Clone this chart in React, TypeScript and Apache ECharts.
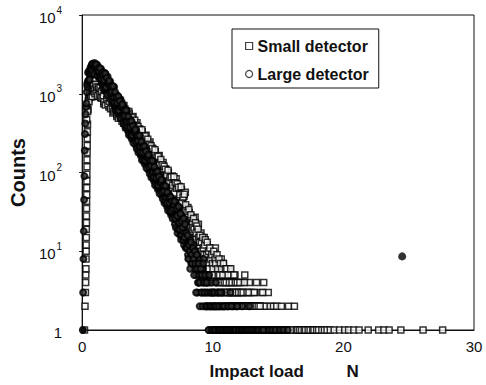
import React, { useEffect, useRef } from "react";
import * as echarts from "echarts";

// Histogram bins (N): 0.05 N bins plus the in-between (mid) bins
const binWidth = 0.05;

// Large detector: bins starting at 0.05 N
const largeStart = 0.05;
const largeCounts = [
  1, 8, 45, 190, 420, 680, 1050, 1230, 1862, 1479,
  1820, 1698, 2188, 1950, 2344, 1738, 2188, 1905, 2455, 1862,
  2239, 1820, 2344, 1862, 1950, 1585, 2042, 1660, 2065, 1445,
  1660, 1318, 1862, 1413, 1820, 1072, 1479, 1148, 1660, 1023,
  1365, 933, 1429, 1000, 1084, 759, 1161, 832, 1216, 692,
  861, 692, 966, 724, 923, 550, 750, 575, 841, 513,
  682, 466, 711, 497, 537, 375, 573, 409, 597, 339,
  421, 337, 470, 352, 447, 265, 361, 277, 404, 245,
  327, 223, 340, 238, 257, 179, 274, 196, 286, 162,
  201, 161, 225, 168, 214, 127, 173, 132, 193, 117,
  156, 107, 163, 114, 123, 86, 131, 94, 137, 78,
  96, 77, 108, 81, 102, 61, 83, 63, 92, 56,
  75, 51, 78, 54, 59, 41, 63, 45, 65, 37,
  46, 37, 52, 39, 49, 29, 40, 30, 44, 27,
  38, 22, 42, 25, 29, 17, 33, 20, 36, 16,
  23, 16, 28, 18, 26, 12, 20, 14, 24, 12,
  15, 9, 13, 8, 11, 14, 7, 10, 9, 12,
  12, 6, 8, 10, 5, 9, 3, 4, 8, 2,
  5, 7, 3, 6, 4, 8, 3, 5, 2, 4,
  3, 5, 2, 4, 1, 3, 2, 4, 3, 1,
  2, 3, 1, 2, 4, 1, 2, 3, 1, 2,
  1, 2, 0, 3, 1, 2, 1, 0, 2, 1,
  1, 0, 2, 1, 1, 0, 3, 1, 0, 1,
  2, 1, 0, 1, 0, 2, 1, 1, 0, 1,
  0, 1, 1, 0, 2, 0, 1, 0, 1, 1,
  0, 1, 0, 0, 1, 2, 0, 1, 0, 0,
  1, 0, 0, 1, 0, 1, 0, 0, 1, 0,
  0, 0, 1, 0, 1, 0, 0, 0, 1, 0,
  0, 1, 0, 0, 0, 1, 0, 0, 0, 0,
  1, 0, 0, 0, 0, 1, 0, 0, 0, 0,
  0, 0, 1, 0, 0, 0, 0, 1, 0, 0,
  0, 0, 0, 0, 1, 0, 0, 0, 0, 0,
];

// Large detector: in-between bins starting at 0.075 N
const largeMidStart = 0.075;
const largeMidCounts = [
  3, 18, 90, 309, 550, 759, 1318, 1413, 1479, 1950,
  1514, 2042, 1972, 1799, 2399, 1928, 2344, 1778, 2188, 2265,
  2344, 1928, 1679, 2113, 1928, 1641, 2113, 1710, 1542, 1837,
  1175, 1726, 1493, 1178, 1811, 1216, 1592, 975, 1337, 1387,
  1469, 1028, 845, 1236, 1064, 817, 1250, 895, 771, 1052,
  612, 895, 771, 605, 927, 619, 807, 492, 671, 695,
  735, 513, 421, 614, 527, 404, 617, 441, 378, 515,
  299, 437, 375, 294, 449, 299, 389, 237, 322, 333,
  352, 245, 201, 294, 252, 193, 295, 211, 181, 247,
  143, 209, 179, 141, 215, 143, 186, 113, 154, 159,
  168, 117, 96, 141, 121, 92, 141, 101, 87, 118,
  69, 100, 86, 67, 103, 69, 89, 54, 74, 76,
  81, 56, 46, 67, 58, 44, 68, 48, 41, 56,
  33, 48, 41, 32, 49, 33, 43, 26, 35, 39,
  43, 26, 20, 35, 28, 19, 37, 23, 19, 30,
  14, 24, 20, 14, 26, 15, 22, 11, 17,
  11, 16, 8, 12, 10, 6, 13, 9, 7, 11,
  8, 5, 10, 7, 3, 9, 6, 4, 7, 5,
  4, 6, 3, 5, 2, 7, 4, 3, 5, 2,
  4, 2, 3, 1, 5, 2, 3, 2, 1, 3,
  2, 1, 3, 2, 1, 2, 0, 3, 1, 2,
  1, 3, 1, 0, 2, 1, 1, 2, 0, 1,
  0, 1, 1, 2, 0, 1, 0, 1, 2, 0,
  1, 0, 1, 0, 1, 1, 0, 2, 0, 1,
  1, 0, 0, 1, 0, 1, 1, 0, 0, 1,
  0, 1, 0, 1, 0, 0, 1, 0, 0, 1,
  0, 0, 1, 0, 0, 1, 0, 0, 1, 0,
  1, 0, 0, 0, 1, 0, 0, 1, 0, 0,
];

// Small detector: steep rising edge [load N, count]
const smallEdge = [
  [0.18, 1], [0.22, 2], [0.25, 3], [0.27, 4], [0.28, 5], [0.29, 6], [0.3, 8],
  [0.31, 10], [0.31, 12], [0.32, 15], [0.32, 19], [0.33, 23], [0.33, 28],
  [0.34, 35], [0.34, 43], [0.35, 52], [0.35, 64], [0.36, 78], [0.36, 95],
  [0.37, 118], [0.37, 145], [0.38, 180], [0.39, 220], [0.39, 270],
  [0.4, 330], [0.41, 410],
];

// Small detector: bins starting at 0.35 N
const smallStart = 0.35;
const smallCounts = [
  468, 724, 631, 871, 891, 1096, 912, 1259, 977, 1122,
  944, 1230, 1072, 1318, 1000, 1191, 920, 1230, 1059, 1175,
  989, 1202, 881, 1072, 900, 1253, 745, 1062, 912, 1132,
  755, 1236, 787, 912, 678, 1005, 782, 1081, 668, 883,
  571, 929, 723, 832, 632, 875, 516, 731, 624, 769,
  509, 828, 524, 603, 447, 661, 513, 708, 437, 575,
  372, 603, 468, 537, 406, 560, 329, 463, 394, 483,
  318, 515, 324, 372, 274, 404, 312, 429, 263, 345,
  222, 358, 277, 316, 239, 328, 192, 270, 229, 281,
  185, 298, 187, 214, 157, 231, 178, 244, 150, 196,
  126, 202, 156, 178, 134, 184, 107, 151, 127, 156,
  102, 164, 103, 117, 86, 127, 98, 134, 82, 108,
  69, 111, 86, 98, 74, 101, 59, 83, 70, 86,
  56, 90, 57, 65, 43, 75, 53, 83, 42, 62,
  34, 67, 47, 56, 39, 61, 29, 48, 38, 50,
  28, 56, 30, 35,
  28, 36, 24, 31, 22, 27, 19, 25, 21, 26,
  24, 17, 27, 15, 20, 13, 18, 22, 12, 16,
  11, 17, 9, 14, 12, 8, 15, 10, 13, 7,
  12, 8, 6, 11, 9, 5, 10, 7, 8, 6,
  9, 5, 7, 11, 4, 6, 8, 5, 7, 4,
  6, 3, 8, 5, 4, 7, 3, 5, 6, 4,
  3, 5, 4, 2, 6, 3, 4, 5, 2, 3,
  4, 2, 3, 5, 1, 3, 4, 2, 3, 2,
  3, 1, 2, 4, 2, 3, 1, 2, 5, 2,
  1, 3, 2, 0, 2, 4, 1, 2, 3, 1,
  2, 1, 3, 0, 2, 1, 4, 1, 2, 0,
  1, 2, 0, 3, 1, 1, 2, 4, 0, 1,
  2, 0, 1, 1, 3, 0, 1, 2, 0, 1,
  1, 0, 2, 1, 0, 1, 0, 2, 1, 0,
  0, 1, 1, 0, 2, 0, 1, 0, 0, 1,
  1, 0, 0, 1, 0, 2, 0, 1, 0, 0,
  0, 1, 0, 0, 2, 0, 0, 1, 0, 1,
  0, 0, 1, 0, 0, 1, 0, 0, 0, 1,
  0, 1, 0, 0, 0, 1, 0, 0, 1, 0,
  0, 0, 1, 0, 1, 0, 0, 0, 1, 0,
  0, 1, 0, 0, 0, 0, 1, 0, 0, 0,
  1, 0, 0, 0, 1, 0, 0, 0, 0, 1,
];

// Small detector: in-between bins starting at 0.375 N
const smallMidStart = 0.375;
const smallMidCounts = [
  631, 596, 822, 794, 1109, 977, 923, 1161, 923, 1265,
  1064, 1148, 1000, 1315, 1064, 1216, 938, 1140, 1208, 971,
  1180, 906, 1076, 885, 1321, 944, 792, 1104, 719, 1178,
  841, 953, 746, 1135, 805, 993, 643, 889, 977, 662,
  916, 593, 783, 624, 925, 656, 547, 757, 490, 796,
  565, 635, 494, 750, 531, 653, 422, 582, 638, 432,
  596, 385, 507, 402, 593, 419, 348, 479, 308, 499,
  352, 394, 305, 461, 325, 398, 256, 352, 384, 258,
  355, 228, 299, 237, 348, 245, 203, 279, 179, 290,
  204, 228, 176, 265, 187, 228, 146, 200, 218, 147,
  201, 129, 169, 133, 195, 137, 114, 156, 100, 161,
  113, 126, 97, 146, 103, 125, 80, 110, 120, 81,
  110, 71, 93, 73, 107, 76, 62, 86, 55, 88,
  62, 69, 53, 88, 55, 74, 40, 63, 72, 41,
  65, 35, 52, 38, 66, 41, 31, 49, 27, 53,
  33, 39, 27,
  31, 22, 27, 34, 20, 25, 29, 18, 23, 20,
  26, 19, 14, 23, 17, 21, 11, 19, 15, 13,
  16, 10, 13, 8, 15, 11, 9, 12, 14, 8,
  9, 13, 7, 10, 6, 11, 8, 5, 9, 7,
  6, 10, 5, 8, 7, 3, 9, 6, 5, 8,
  5, 7, 4, 6, 2, 5, 7, 4, 3, 6,
  4, 6, 3, 5, 2, 4, 3, 6, 2, 4,
  3, 1, 5, 2, 4, 3, 2, 4, 1, 3,
  2, 4, 1, 3, 2, 0, 3, 2, 4, 1,
  2, 0, 3, 1, 2, 3, 0, 2, 1, 2,
  1, 2, 0, 3, 1, 0, 2, 1, 0, 2,
  0, 1, 2, 0, 1, 0, 3, 0, 1, 1,
];

// Small detector: isolated single-count events at high load
const smallSparseX = [19.3, 19.7, 20.1, 20.4, 20.8, 21.2, 21.9, 22.7, 23.1, 23.5, 24.4, 26.1, 27.6];
const smallSparseCount = 1;

// Filled dots seen on the plot [load N, count]
const filledDots = [[0.12, 1], [24.5, 8.6]];

const seriesNames = ["Small detector", "Large detector"];
const xMin = 0;
const xMax = 30;
const xStep = 10;
const yMin = 1;
const yMax = 10000;

export default function App() {
  const ref = useRef<HTMLDivElement>(null);

  useEffect(() => {
    if (!ref.current) return;
    const chart = echarts.init(ref.current, null, { renderer: "svg" });

    const binned = (start: number, counts: number[]) =>
      counts
        .map((c, i) => [Math.round((start + i * binWidth) * 1000) / 1000, c])
        .filter((d) => d[1] > 0);

    const largeData = [...binned(largeStart, largeCounts), ...binned(largeMidStart, largeMidCounts)];
    const smallData = [
      ...smallEdge,
      ...binned(smallStart, smallCounts),
      ...binned(smallMidStart, smallMidCounts),
      ...smallSparseX.map((x) => [x, smallSparseCount]),
    ];

    const ink = "#111";

    chart.setOption({
      animation: false,
      textStyle: { fontFamily: "Liberation Sans, Arial, sans-serif" },
      grid: {
        left: 79,
        right: 12,
        top: 15,
        bottom: 50,
        show: true,
        borderColor: ink,
        borderWidth: 1,
        backgroundColor: "transparent",
      },
      legend: {
        left: 232,
        top: 29,
        orient: "vertical",
        data: [
          { name: seriesNames[0], icon: "rect" },
          { name: seriesNames[1], icon: "circle" },
        ],
        itemWidth: 7,
        itemHeight: 7,
        itemGap: 12,
        padding: [9, 10, 6, 13],
        borderColor: ink,
        borderWidth: 1,
        borderRadius: 0,
        backgroundColor: "#fff",
        selectedMode: false,
        itemStyle: { color: "#fff", borderColor: ink, borderWidth: 1.2 },
        textStyle: { fontSize: 16, fontWeight: "bold", color: ink },
      },
      xAxis: {
        type: "value",
        min: xMin,
        max: xMax,
        interval: xStep,
        axisLine: { lineStyle: { color: ink, width: 1 } },
        axisTick: { show: false },
        splitLine: { show: false },
        axisLabel: { margin: 9, fontSize: 15, color: ink },
        name: "Impact load" + "\u00a0".repeat(9) + "N",
        nameLocation: "middle",
        nameGap: 33,
        nameTextStyle: {
          fontSize: 17,
          fontWeight: "bold",
          color: ink,
          padding: [0, 0, 0, 12],
        },
      },
      yAxis: {
        type: "log",
        logBase: 10,
        min: yMin,
        max: yMax,
        axisLine: { show: true, lineStyle: { color: ink, width: 1 } },
        axisTick: { show: true, length: 3, lineStyle: { color: ink } },
        splitLine: { show: false },
        minorTick: { show: false },
        axisLabel: {
          margin: 20,
          color: ink,
          fontSize: 15,
          formatter: (v: number) => {
            const e = Math.round(Math.log10(v));
            return e === 0 ? "{b|1}" : `{b|10}{s|${e}}`;
          },
          rich: {
            b: { fontSize: 15, color: ink, lineHeight: 20, verticalAlign: "bottom" },
            s: { fontSize: 10, color: ink, lineHeight: 20, verticalAlign: "top", padding: [0, 0, 6, 1] },
          },
        },
        name: "Counts",
        nameLocation: "middle",
        nameGap: 50,
        nameTextStyle: { fontSize: 20, fontWeight: "bold", color: ink },
      },
      series: [
        {
          name: seriesNames[0],
          type: "scatter",
          symbol: "rect",
          symbolSize: 6,
          itemStyle: { color: "#fff", borderColor: "#000", borderWidth: 1.5 },
          data: smallData,
          z: 2,
        },
        {
          name: seriesNames[1],
          type: "scatter",
          symbol: "circle",
          symbolSize: 6,
          itemStyle: { color: "#333", borderColor: "#000", borderWidth: 2 },
          data: largeData,
          z: 3,
        },
        {
          name: "filled",
          type: "scatter",
          symbol: "circle",
          itemStyle: { color: "#000", borderColor: "#000", borderWidth: 0 },
          data: filledDots.map((d, i) => ({ value: d, symbolSize: i === 0 ? 6 : 8 })),
          z: 4,
        },
      ],
    });

    return () => chart.dispose();
  }, []);

  return (
    <div
      ref={ref}
      style={{ position: "fixed", left: 0, top: 0, width: 486, height: 385, background: "#fff" }}
    />
  );
}
